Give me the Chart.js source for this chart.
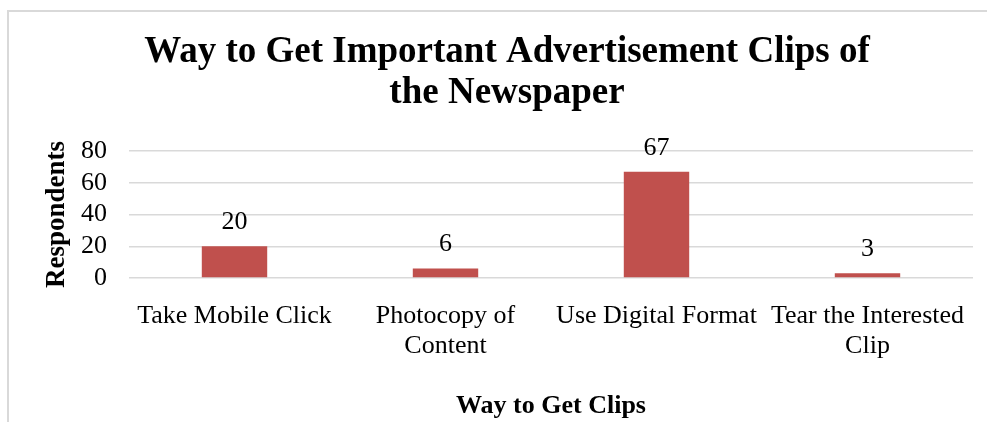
<!DOCTYPE html>
<html>
<head>
<meta charset="utf-8">
<script src="https://cdn.jsdelivr.net/npm/chart.js@4/dist/chart.umd.min.js"></script>
<style>
  html, body { margin: 0; padding: 0; background: #fff; overflow: hidden; }
  body { width: 987px; height: 422px; position: relative; }
  .frame {
    position: absolute; left: 7px; top: 10px; width: 1100px; height: 500px;
    border-left: 2px solid #d9d9d9; border-top: 2px solid #d9d9d9;
  }
  .box { position: absolute; left: 9px; top: 12px; width: 996px; height: 410px; }
</style>
</head>
<body>
<div class="frame"></div>
<div class="box"><canvas id="myChart"></canvas></div>
<script>
const categories = [
    "Take Mobile Click",
    ["Photocopy of", "Content"],
    "Use Digital Format",
    ["Tear the Interested", "Clip"],
];
const respondents = [20, 6, 67, 3];
const yTicks = [0, 20, 40, 60, 80];

const serif = "'Liberation Serif', 'Times New Roman', serif";

// writes each bar's value above it
const valueLabels = {
    id: "valueLabels",
    afterDatasetsDraw(chart) {
        const ctx = chart.ctx;
        const meta = chart.getDatasetMeta(0);
        ctx.save();
        ctx.font = "26px " + serif;
        ctx.fillStyle = "#000";
        ctx.textAlign = "center";
        ctx.textBaseline = "alphabetic";
        meta.data.forEach((bar, i) => {
            ctx.fillText(String(respondents[i]), bar.x, bar.y - 17);
        });
        ctx.restore();
    },
};

const printChart = () => {
    const ctx = document.getElementById("myChart").getContext("2d");
    new Chart(ctx, {
        type: "bar",
        data: {
            labels: categories,
            datasets: [
                {
                    label: "Respondents",
                    data: respondents,
                    backgroundColor: "#c0504d",
                    categoryPercentage: 1,
                    barPercentage: 0.31,
                },
            ],
        },
        options: {
            responsive: true,
            maintainAspectRatio: false,
            animation: false,
            layout: { padding: { left: 32, right: 32, top: 20, bottom: 0 } },
            plugins: {
                legend: { display: false },
                tooltip: { enabled: false },
                title: {
                    display: true,
                    text: ["Way to Get Important Advertisement Clips of", "the Newspaper"],
                    color: "#000",
                    font: { family: serif, size: 37, weight: "bold", lineHeight: 1.11 },
                    padding: { top: 0, bottom: 37 },
                },
            },
            scales: {
                x: {
                    // long category names may hang past the plot edges
                    afterFit: scale => {
                        scale.paddingLeft = 0;
                        scale.paddingRight = 0;
                    },
                    grid: { display: false },
                    border: { display: false },
                    ticks: {
                        color: "#000",
                        font: { family: serif, size: 26, lineHeight: 1.15 },
                        maxRotation: 0,
                        autoSkip: false,
                        padding: 15,
                    },
                    title: {
                        display: true,
                        text: "Way to Get Clips",
                        color: "#000",
                        font: { family: serif, size: 26, weight: "bold" },
                        padding: { top: 15, bottom: 0 },
                    },
                },
                y: {
                    min: 0,
                    max: 80,
                    afterBuildTicks: scale => {
                        scale.ticks = yTicks.map(v => ({ value: v }));
                    },
                    afterFit: scale => {
                        scale.width = 88;
                    },
                    grid: { color: "#d9d9d9", lineWidth: 1.5, drawTicks: false },
                    border: { display: false },
                    ticks: {
                        color: "#000",
                        font: { family: serif, size: 26 },
                        padding: 22,
                        autoSkip: false,
                    },
                    title: {
                        display: true,
                        text: "Respondents",
                        color: "#000",
                        font: { family: serif, size: 27, weight: "bold" },
                        padding: { top: 0, bottom: 6 },
                    },
                },
            },
        },
        plugins: [valueLabels],
    });
};

printChart();
</script>
</body>
</html>
